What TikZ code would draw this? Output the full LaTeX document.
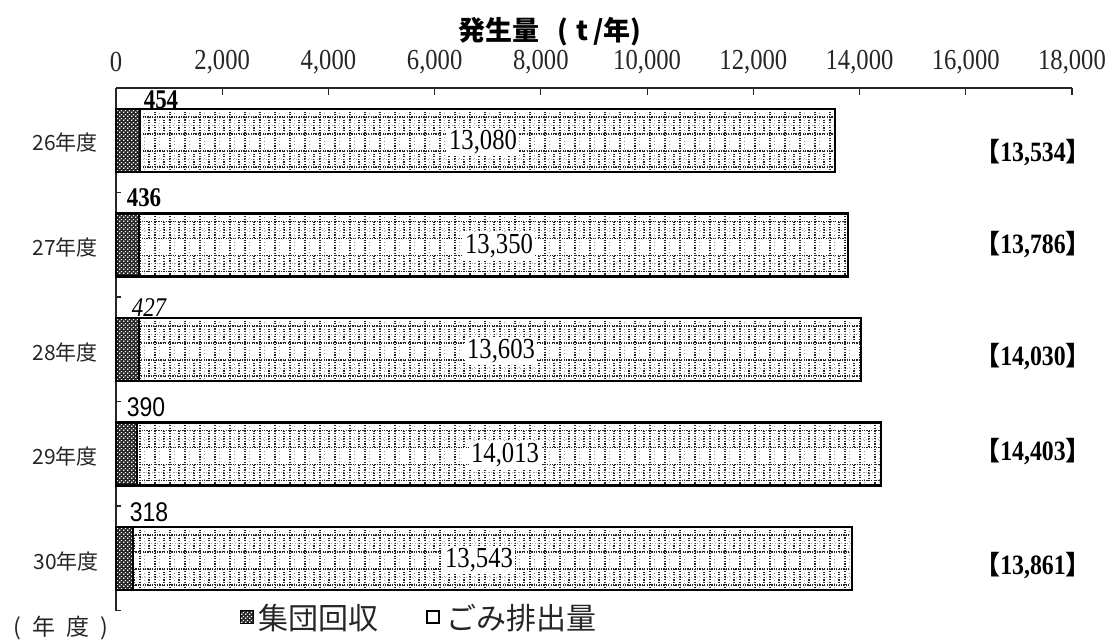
\documentclass[tikz,border=0pt]{standalone}
\usepackage{fontspec}
\setmainfont{Liberation Serif}
\newfontfamily\jp{Noto Sans CJK JP}
\newfontfamily\numf[FakeStretch=0.85]{Liberation Serif}
\newfontfamily\numsf[FakeStretch=0.85]{Liberation Sans}
\usetikzlibrary{patterns}
\newcommand\fsz[1]{\fontsize{#1pt}{#1pt}\selectfont}
\pgfdeclarepatternformonly{whitechk}{\pgfpointorigin}{\pgfqpoint{3.6pt}{3.6pt}}{\pgfqpoint{3.6pt}{3.6pt}}{%
 \pgfpathrectangle{\pgfqpoint{0.2pt}{0.2pt}}{\pgfqpoint{1.3pt}{1.3pt}}%
 \pgfpathrectangle{\pgfqpoint{2pt}{2pt}}{\pgfqpoint{1.3pt}{1.3pt}}%
 \pgfusepath{fill}}
\newcommand\collfill[4]{%
 \fill[black!85] (#1,#2) rectangle (#3,#4);
 \fill[pattern=whitechk,pattern color=white] (#1,#2) rectangle (#3,#4);
}
\newcommand\mybar[6]{%
 % #1 top, #2 collection end, #3 total end, #4 label x, #5 label, #6 name
 \begin{scope}
  \clip (#2,#1) rectangle (#3,#1+63);
  \foreach \xx in {125,140,...,900} {
    \draw[vdot] (\xx,#1) -- (\xx,#1+63);
    \draw[vdotd] (\xx+9,#1+8) -- (\xx+9,#1+25);
    \draw[vdotd] (\xx+9,#1+42) -- (\xx+9,#1+58);
    \draw[vdotl] (\xx+4.5,#1) -- (\xx+4.5,#1+63);
  }
  \foreach \yy in {8,25,42,58} \draw[hdot] (#2,#1+\yy) -- (#3,#1+\yy);
  \foreach \yy in {16.5,50} \draw[hdotl] (#2,#1+\yy) -- (#3,#1+\yy);
 \end{scope}
 \collfill{116}{#1}{#2}{#1+63}
 \draw[barline] (116,#1) rectangle (#3,#1+63);
 \draw[barline] (#2,#1) -- (#2,#1+63);
 \node[inlab] (lab#6) at (#4,#1+33) {#5};
}
\begin{document}
\begin{tikzpicture}[x=1pt,y=-1pt,
 axis/.style={line width=1.2pt,black!85},
 barline/.style={line width=2.4pt,black},
 vdot/.style={line width=1.1pt,black!85,dash pattern=on 1.2pt off 1.4pt},
 vdotd/.style={line width=1.1pt,black!85,dash pattern=on 1.2pt off 1.4pt},
 vdotl/.style={line width=0.8pt,black!40,dash pattern=on 1pt off 2.5pt},
 hdot/.style={line width=1.1pt,black!85,dash pattern=on 1.2pt off 1.2pt},
 hdotl/.style={line width=0.8pt,black!35,dash pattern=on 1pt off 2pt},
 ticklab/.style={font=\numf\fsz{29},inner sep=0pt,text=black!85},
 inlab/.style={font=\numf\fsz{29},fill=white,inner sep=2.5pt},
 totlab/.style={font=\numf\bfseries\fsz{28},inner sep=0pt},
 toplab/.style={font=\numf\bfseries\fsz{27},inner sep=0pt},
 toplabs/.style={font=\numsf\fsz{27},inner sep=0pt},
 catlab/.style={font=\jp\fsz{21},inner sep=0pt,text=black!85},
 leglab/.style={font=\jp\fsz{30},inner sep=0pt,anchor=west,text=black!85},
]
\useasboundingbox (0,0) rectangle (1110,641);
\fill[white] (0,0) rectangle (1110,641);

% title
\node[font=\jp\bfseries\fsz{27},inner sep=0pt] (title) at (550,32) {発生量\hspace{18pt}(\hspace{8pt}t\hspace{5pt}/年)};

% top axis
\draw[axis] (116,88) -- (1072,88);
\foreach \i in {1,...,9} \draw[axis] ({116+\i*106.22},88) -- ++(0,7);
\foreach \v [count=\i from 0] in {0,{2,000},{4,000},{6,000},{8,000},{10,000},{12,000},{14,000},{16,000},{18,000}}
  \node[ticklab] (t\i) at ({116+\i*106.22},62) {\v};

% left axis
\draw[axis] (116,88) -- (116,610.5);
\foreach \k in {1,...,5} \draw[axis] (116,{88+\k*104.5}) -- ++(5,0);

% bars
\mybar{109}{140.1}{834.8}{483}{13,080}{a}
\mybar{213.5}{139.2}{848.2}{499}{13,350}{b}
\mybar{318}{138.7}{861.1}{501}{13,603}{c}
\mybar{422.5}{136.7}{880.9}{505}{14,013}{d}
\mybar{527}{132.9}{852.2}{479}{13,543}{e}

% collection values
\node[toplab] (va) at (161,100) {454};
\node[toplab] (vb) at (144,198) {436};
\node[toplab,font=\numf\itshape\fsz{27}] (vc) at (149,308) {427};
\node[toplabs] (vd) at (146,407) {390};
\node[toplabs] (ve) at (149,512) {318};

% category labels
\node[catlab] (ca) at (65,142) {26年度};
\node[catlab] (cb) at (65,247) {27年度};
\node[catlab] (cc) at (65,352) {28年度};
\node[catlab] (cd) at (65,456) {29年度};
\node[catlab] (ce) at (66,561) {30年度};

% totals
\node[totlab] (sa) at (1033,153) {{\jp\fsz{26}【}13,534{\jp\fsz{26}】}};
\node[totlab] (sb) at (1033,245) {{\jp\fsz{26}【}13,786{\jp\fsz{26}】}};
\node[totlab] (sc) at (1033,357) {{\jp\fsz{26}【}14,030{\jp\fsz{26}】}};
\node[totlab] (sd) at (1033,452) {{\jp\fsz{26}【}14,403{\jp\fsz{26}】}};
\node[totlab] (se) at (1033,566) {{\jp\fsz{26}【}13,861{\jp\fsz{26}】}};

% axis caption
\node[font=\jp\fsz{23},inner sep=0pt,text=black!85] (yl) at (61,628) {(\hspace{11pt}年\hspace{11pt}度\hspace{11pt})};

% legend
\collfill{240.5}{610.5}{253.5}{623.5}
\draw[line width=1.6pt] (240.5,610.5) rectangle (253.5,623.5);
\node[leglab] (l1) at (258,618) {集団回収};
\draw[line width=2pt,fill=white] (427,611) rectangle (439,623);
\node[leglab] (l2) at (446,618) {ごみ排出量};
\end{tikzpicture}
\end{document}
